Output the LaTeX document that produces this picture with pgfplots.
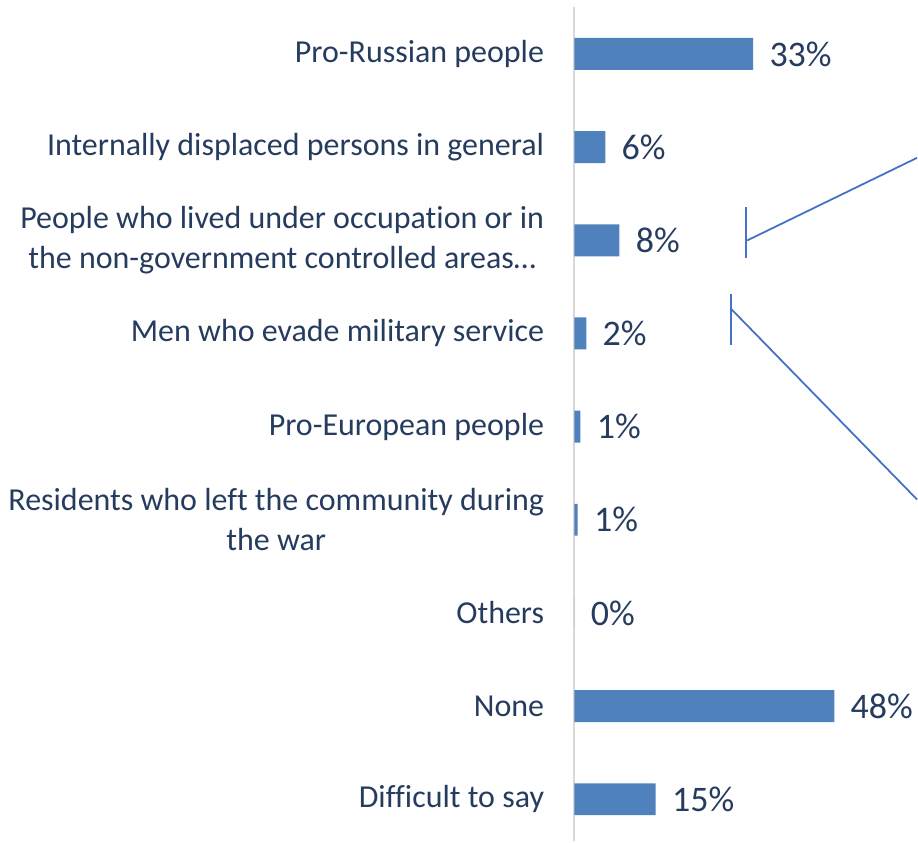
\documentclass[border=0pt]{standalone}
\usepackage{fontspec}
\setmainfont{Carlito}[Ligatures={NoCommon}]
\usepackage{pgfplots}
\pgfplotsset{compat=1.18}
\definecolor{barblue}{RGB}{79,129,189}
\definecolor{navy}{RGB}{38,60,95}
\definecolor{axgray}{RGB}{217,217,217}
\definecolor{callout}{RGB}{68,114,196}
\begin{document}
\begin{tikzpicture}
\begin{axis}[
  scale only axis,
  width=171.5pt, height=421pt,
  xmin=0, xmax=63.28,
  ymin=-0.579, ymax=8.45,
  y dir=reverse,
  clip=false,
  axis line style={draw=none},
  xtick=\empty,
  ytick={0,1,2,3,4,5,6,7,8},
  major tick length=0pt,
  yticklabels={
    Pro-Russian people,
    Internally displaced persons in general,
    {People who lived under occupation or in\\the non-government controlled areas…},
    Men who evade military service,
    Pro-European people,
    {Residents who left the community during\\the war},
    Others,
    None,
    Difficult to say},
  yticklabel style={align=center, font=\fontsize{16}{20}\selectfont, text=navy, inner sep=0pt, anchor=east, xshift=-15pt},
  xbar,
  bar width=16pt,
  nodes near coords,
  point meta=explicit symbolic,
  nodes near coords style={anchor=west, inner sep=0pt, xshift=8pt, font=\fontsize{18}{22}\selectfont, text=navy},
]
\draw[axgray, line width=1pt] (axis cs:0,-0.504) -- (axis cs:0,8.45);
\addplot[fill=barblue, draw=none] coordinates {
  (33,0) [33\%]
  (5.7,1) [6\%]
  (8.3,2) [8\%]
  (2.2,3) [2\%]
  (1.1,4) [1\%]
  (0.6,5) [1\%]
  (0,6) [0\%]
  (48,7) [48\%]
  (15,8) [15\%]
};
\draw[callout, line width=0.9pt] (axis cs:31.68,1.648) -- (axis cs:31.68,2.188);
\draw[callout, line width=0.9pt] (axis cs:31.9,2.002) -- (axis cs:63.28,1.115);
\draw[callout, line width=0.9pt] (axis cs:28.91,2.574) -- (axis cs:28.91,3.128);
\draw[callout, line width=0.9pt] (axis cs:28.91,2.735) -- (axis cs:63.28,4.783);
\pgfresetboundingbox
\path[use as bounding box] (axis cs:-106.09,-0.579) rectangle (axis cs:63.28,8.45);
\end{axis}
\end{tikzpicture}
\end{document}
